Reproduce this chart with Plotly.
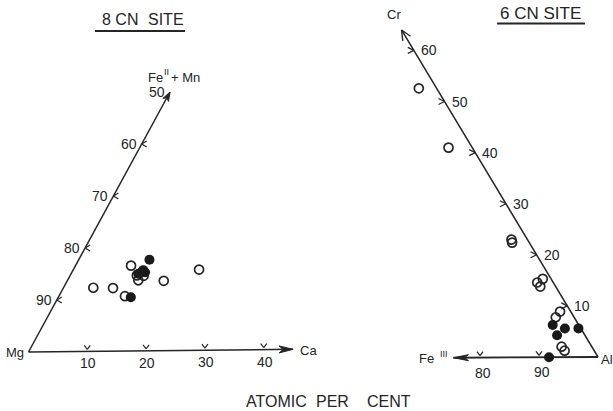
import numpy as np
import plotly.graph_objects as go

# ---- 8 CN site: Ca and Fe(II)+Mn, atomic per cent (remainder Mg) ----
cn8_open_ca = [9.5, 11.4, 12.1, 12.6, 16.5, 21.5, 5.1, 8.5, 11.3]
cn8_open_fe = [16.5, 14.6, 13.65, 14.5, 13.5, 15.6, 12.3, 12.2, 10.6]
cn8_filled_ca = [12.1, 11.9, 12.5, 11.5, 12.0, 12.4]
cn8_filled_fe = [17.6, 15.2, 15.2, 14.9, 15.6, 10.4]

# ---- 6 CN site: Cr and Fe(III), atomic per cent (remainder Al) ----
cn6_open_cr = [52.6, 41.0, 23.0, 22.4, 15.3, 14.6, 13.8, 8.9, 7.8, 2.05, 1.27]
cn6_open_fe = [3.0, 4.0, 2.7, 2.9, 1.4, 2.7, 2.6, 1.8, 3.1, 5.1, 5.0]
cn6_filled_cr = [6.3, 5.6, 5.6, 4.3, 0.0]
cn6_filled_fe = [4.4, 2.7, 0.4, 4.7, 8.3]

# tick values
cn8_ca_ticks = [10, 20, 30, 40]
cn8_mg_ticks = [90, 80, 70, 60, 50]
cn6_al_ticks = [90, 80]
cn6_cr_ticks = [10, 20, 30, 40, 50, 60]

INK = "#252525"
FONT = "Liberation Sans"

# ---- triangle frames (page coordinates, y down) ----
O8 = np.array([28.5, 352.0])
U8_CA = np.array([5.88, -0.06])
U8_FE = np.array([2.83, -5.2])

O6 = np.array([598.0, 357.0])
U6_FE = np.array([-5.9, 0.03])
U6_CR = np.array([-3.07, -5.11])


def pos8(ca, fe):
    return O8 + np.outer(np.atleast_1d(ca), U8_CA) + np.outer(np.atleast_1d(fe), U8_FE)


def pos6(cr, fe):
    return O6 + np.outer(np.atleast_1d(fe), U6_FE) + np.outer(np.atleast_1d(cr), U6_CR)


fig = go.Figure()


def line(pts, width=1.5, color=INK):
    pts = np.asarray(pts, dtype=float)
    fig.add_trace(go.Scatter(x=pts[:, 0], y=pts[:, 1], mode="lines",
                             line=dict(color=color, width=width),
                             hoverinfo="skip", showlegend=False))


def segments(segs, width=1.2):
    xs, ys = [], []
    for a, b in segs:
        xs += [a[0], b[0], None]
        ys += [a[1], b[1], None]
    fig.add_trace(go.Scatter(x=xs, y=ys, mode="lines",
                             line=dict(color=INK, width=width),
                             hoverinfo="skip", showlegend=False))


def head(tip, start, length, half, notch, filled=True):
    tip = np.asarray(tip, float)
    d = tip - np.asarray(start, float)
    d /= np.linalg.norm(d)
    p = np.array([-d[1], d[0]])
    a = tip - length * d + half * p
    b = tip - length * d - half * p
    if filled:
        c = tip - (length - notch) * d
        poly = np.array([tip, a, c, b, tip])
        fig.add_trace(go.Scatter(x=poly[:, 0], y=poly[:, 1], mode="lines",
                                 fill="toself", fillcolor=INK,
                                 line=dict(color=INK, width=1),
                                 hoverinfo="skip", showlegend=False))
    else:
        segments([(a, tip), (tip, b)], width=1.4)


def text(x, y, s, size=13, anchor="center"):
    fig.add_annotation(x=x, y=y, xref="x", yref="y", text=s, showarrow=False,
                       xanchor=anchor, yanchor="middle", borderpad=0,
                       font=dict(family=FONT, size=size, color=INK))


# ================= 8 CN site =================
ca_end = pos8(45, 0)[0]
fe_end = pos8(0, 50)[0]
line([O8, ca_end])
line([O8, fe_end])
head(ca_end, O8, 14, 3.5, 4)
head(fe_end, O8, 9, 3.2, 2.5)

# ticks along Ca edge: small "v" above the line
segs = []
for t in cn8_ca_ticks:
    p = pos8(t, 0)[0]
    segs += [((p[0] - 3, p[1] - 6), (p[0], p[1] - 2)), ((p[0], p[1] - 2), (p[0] + 3, p[1] - 6))]
    text(p[0] + 1, p[1] + 12, str(t), size=14)
# ticks along Mg-(Fe+Mn) edge: "<" on the right of the line
for t in cn8_mg_ticks[:-1]:
    p = pos8(0, 100 - t)[0]
    segs += [((p[0] + 5, p[1] - 3), (p[0], p[1])), ((p[0], p[1]), (p[0] + 5, p[1] + 3))]
segments(segs)
for t in cn8_mg_ticks:
    p = pos8(0, 100 - t)[0]
    text(p[0] - 13, p[1], str(t), size=14)

text(O8[0] - 14, O8[1], "Mg", size=13)
text(ca_end[0] + 15, ca_end[1] + 1, "Ca", size=13)
# vertex label of the upper edge, with a raised oxidation-state numeral
text(fe_end[0] - 6, fe_end[1] - 15, "Fe", size=13, anchor="right")
text(fe_end[0] - 7, fe_end[1] - 20, "II", size=9, anchor="left")
text(fe_end[0] + 0, fe_end[1] - 15, "+ Mn", size=13, anchor="left")

fig.add_trace(go.Scatter(
    x=pos8(cn8_open_ca, cn8_open_fe)[:, 0], y=pos8(cn8_open_ca, cn8_open_fe)[:, 1],
    mode="markers", marker=dict(symbol="circle-open", size=9, color=INK, line=dict(width=1.7)),
    hoverinfo="skip", showlegend=False))
fig.add_trace(go.Scatter(
    x=pos8(cn8_filled_ca, cn8_filled_fe)[:, 0], y=pos8(cn8_filled_ca, cn8_filled_fe)[:, 1],
    mode="markers", marker=dict(symbol="circle", size=10, color="#1a1a1a"),
    hoverinfo="skip", showlegend=False))

text(139, 19, "8 CN", size=16, anchor="right")
text(147, 19, "SITE", size=16, anchor="left")
line([(95, 31), (185, 31)], width=2.2)

# ================= 6 CN site =================
fe6_end = pos6(0, 24.5)[0]
cr_end = pos6(64, 0)[0]
line([O6, fe6_end], width=1.8)
line([O6, cr_end])
head(fe6_end, O6, 15, 3.0, 4)
head(cr_end, O6, 10, 4.5, 0, filled=False)

segs = []
for t in cn6_al_ticks:
    p = pos6(0, 100 - t)[0]
    segs += [((p[0] - 3, p[1] - 6), (p[0], p[1] - 2)), ((p[0], p[1] - 2), (p[0] + 3, p[1] - 6))]
    text(p[0] + 3, p[1] + 15, str(t), size=14)
for t in cn6_cr_ticks:
    p = pos6(t, 0)[0]
    segs += [((p[0] - 6, p[1] - 3), (p[0], p[1])), ((p[0], p[1]), (p[0] - 6, p[1] + 3))]
    text(p[0] + 15, p[1], str(t), size=14)
segments(segs)

text(O6[0] + 9, O6[1] + 2, "Al", size=13)
text(fe6_end[0] - 18, fe6_end[1] + 1, "Fe", size=13, anchor="right")
text(fe6_end[0] - 14, fe6_end[1] - 4, "III", size=9, anchor="left")
text(cr_end[0] - 8, cr_end[1] - 15, "Cr", size=13)

fig.add_trace(go.Scatter(
    x=pos6(cn6_open_cr, cn6_open_fe)[:, 0], y=pos6(cn6_open_cr, cn6_open_fe)[:, 1],
    mode="markers", marker=dict(symbol="circle-open", size=9, color=INK, line=dict(width=1.7)),
    hoverinfo="skip", showlegend=False))
fig.add_trace(go.Scatter(
    x=pos6(cn6_filled_cr, cn6_filled_fe)[:, 0], y=pos6(cn6_filled_cr, cn6_filled_fe)[:, 1],
    mode="markers", marker=dict(symbol="circle", size=10, color="#1a1a1a"),
    hoverinfo="skip", showlegend=False))

text(540, 13, "6 CN SITE", size=17)
line([(497, 23.5), (585, 23.5)], width=2.2)

# common caption
text(245, 401, "ATOMIC", size=16, anchor="left")
text(315, 401, "PER", size=16, anchor="left")
text(366, 401, "CENT", size=16, anchor="left")

fig.update_layout(
    width=613, height=411,
    margin=dict(l=0, r=0, t=0, b=0),
    paper_bgcolor="white", plot_bgcolor="white",
    xaxis=dict(range=[0, 613], visible=False, fixedrange=True),
    yaxis=dict(range=[411, 0], visible=False, fixedrange=True),
    showlegend=False,
)

fig.write_html("out.html")
